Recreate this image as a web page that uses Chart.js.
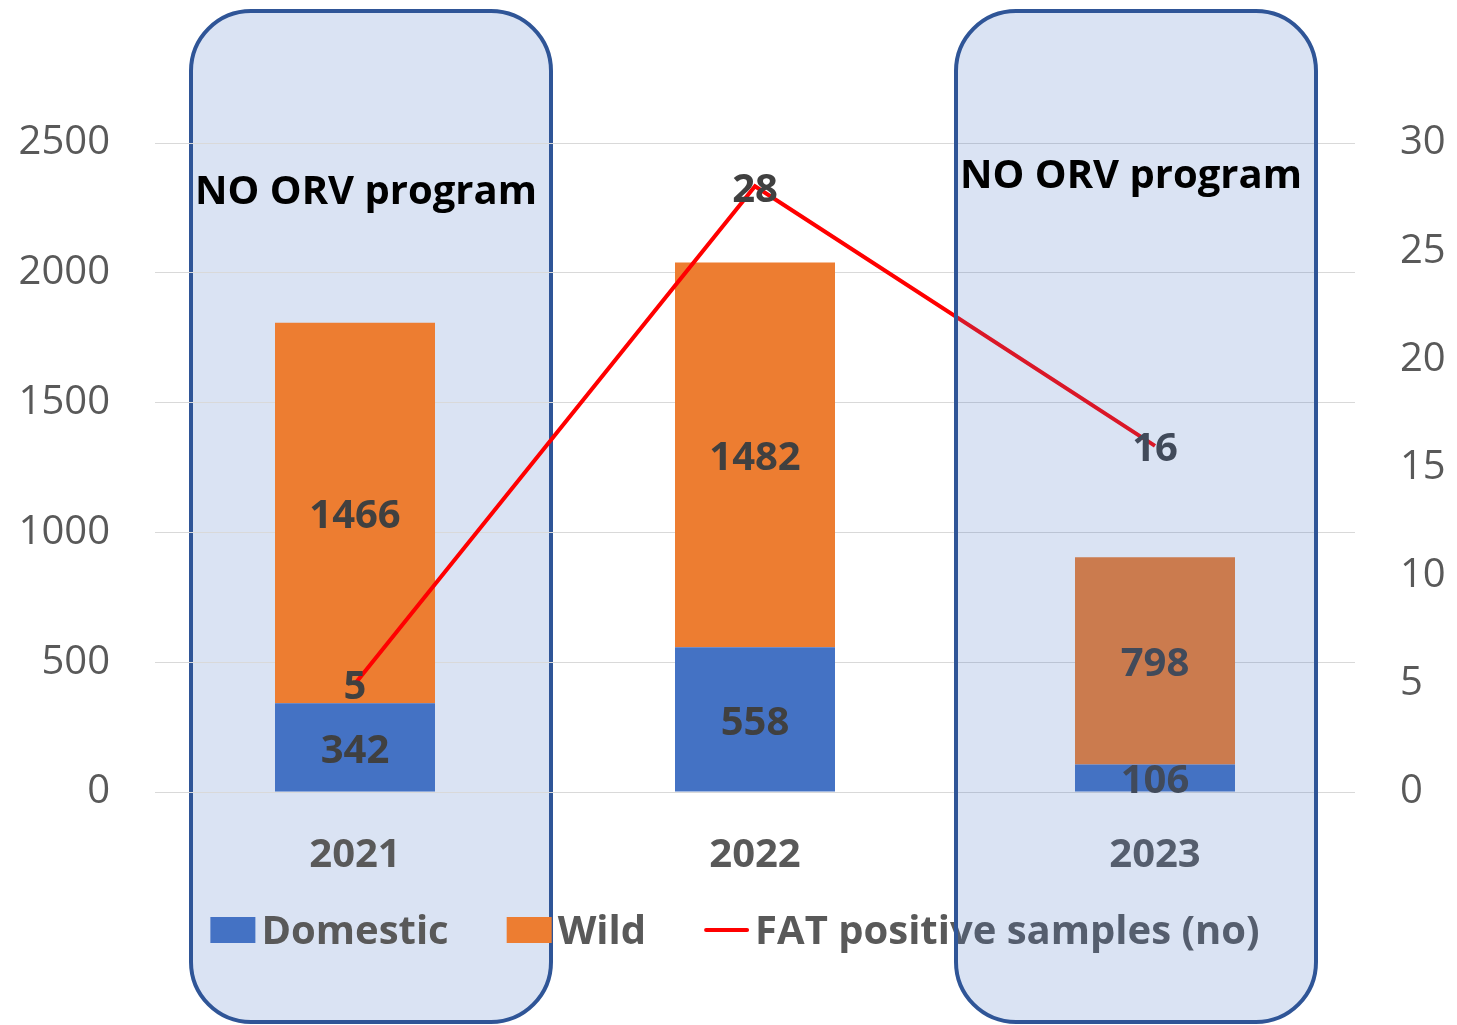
<!DOCTYPE html>
<html lang="en">
<head>
<meta charset="UTF-8">
<title>Domestic / Wild samples and FAT positives</title>
<script src="https://cdn.jsdelivr.net/npm/chart.js"></script>
<style>
    html, body { margin: 0; padding: 0; background: #fff; }
    #wrap { width: 1457px; height: 1025px; position: relative; }
</style>
</head>
<body>
<div id="wrap"><canvas id="chart"></canvas></div>
<script>
    const years = ['2021', '2022', '2023'];
    const domestic = [342, 558, 106];
    const wild = [1466, 1482, 798];
    const fatPositive = [5, 28, 16];
    const countTicks = { min: 0, max: 2500, step: 500 };
    const fatTicks = { min: 0, max: 30, step: 5 };

    const FONT = '"Open Sans", "DejaVu Sans", sans-serif';
    const boxFill = 'rgba(68, 114, 196, 0.2)';
    const boxLine = '#2f5597';

    // rounded "NO ORV program" panels
    function drawPanel(ctx, x, y, w, h, tx, ty) {
        ctx.save();
        ctx.beginPath();
        ctx.roundRect(x, y, w, h, 60);
        ctx.fillStyle = boxFill;
        ctx.fill();
        ctx.lineWidth = 4;
        ctx.strokeStyle = boxLine;
        ctx.stroke();
        ctx.fillStyle = '#000';
        ctx.font = 'bold 40px ' + FONT;
        ctx.textAlign = 'center';
        ctx.textBaseline = 'middle';
        ctx.fillText('NO ORV program', tx, ty);
        ctx.restore();
    }

    const panelBehind = {
        id: 'panelBehind',
        beforeDraw(chart) {
            drawPanel(chart.ctx, 191, 11, 360, 1011, 366, 193);
        }
    };

    const panelFront = {
        id: 'panelFront',
        afterDraw(chart) {
            drawPanel(chart.ctx, 956, 11, 360, 1011, 1131, 177);
        }
    };

    const valueLabels = {
        id: 'valueLabels',
        afterDatasetsDraw(chart) {
            const ctx = chart.ctx;
            ctx.save();
            ctx.font = 'bold 40px ' + FONT;
            ctx.fillStyle = '#404040';
            ctx.textAlign = 'center';
            ctx.textBaseline = 'middle';
            chart.data.datasets.forEach((ds, i) => {
                const meta = chart.getDatasetMeta(i);
                meta.data.forEach((el, j) => {
                    const p = el.getProps(['x', 'y', 'base'], true);
                    const y = ds.type === 'bar' ? (p.y + p.base) / 2 + 4 : p.y + 4;
                    ctx.fillText(ds.data[j], p.x, y);
                });
            });
            ctx.restore();
        }
    };

    const bottomLegend = {
        id: 'bottomLegend',
        afterDatasetsDraw(chart) {
            const ctx = chart.ctx;
            const y = 930, sample = 45, gap = 6, spacing = 58;
            ctx.save();
            ctx.font = 'bold 40px ' + FONT;
            const items = chart.data.datasets.map(ds => ({ ds, w: ctx.measureText(ds.label).width }));
            const total = items.reduce((s, it) => s + sample + gap + it.w, 0) + spacing * (items.length - 1);
            let x = 735 - total / 2;
            items.forEach(it => {
                if (it.ds.type === 'line') {
                    ctx.strokeStyle = it.ds.borderColor;
                    ctx.lineWidth = 4;
                    ctx.lineCap = 'round';
                    ctx.beginPath();
                    ctx.moveTo(x + 2, y);
                    ctx.lineTo(x + sample - 2, y);
                    ctx.stroke();
                } else {
                    ctx.fillStyle = it.ds.backgroundColor;
                    ctx.fillRect(x, y - 13, sample, 26);
                }
                ctx.fillStyle = '#595959';
                ctx.textAlign = 'left';
                ctx.textBaseline = 'middle';
                ctx.fillText(it.ds.label, x + sample + gap, y + 3);
                x += sample + gap + it.w + spacing;
            });
            ctx.restore();
        }
    };

    const tickFont = { family: FONT, size: 40 };

    new Chart(document.getElementById('chart'), {
        data: {
            labels: years,
            datasets: [
                { type: 'bar', label: 'Domestic', data: domestic, backgroundColor: '#4472c4', order: 1 },
                { type: 'bar', label: 'Wild', data: wild, backgroundColor: '#ed7d31', order: 1 },
                {
                    type: 'line', label: 'FAT positive samples (no)', data: fatPositive, yAxisID: 'y1',
                    borderColor: '#ff0000', borderWidth: 4, pointRadius: 0, tension: 0, fill: false, order: 0
                }
            ]
        },
        options: {
            responsive: true,
            maintainAspectRatio: false,
            animation: false,
            datasets: { bar: { categoryPercentage: 0.4, barPercentage: 1 } },
            layout: { padding: { top: 143, left: 0, right: 0, bottom: 0 } },
            plugins: {
                legend: { display: false },
                tooltip: { enabled: false }
            },
            scales: {
                x: {
                    stacked: true,
                    grid: { display: false, drawTicks: false },
                    border: { display: false },
                    ticks: { font: { family: FONT, size: 40, weight: 'bold' }, color: '#595959', padding: 40 },
                    afterFit: s => { s.height = 233; }
                },
                y: {
                    stacked: true,
                    min: countTicks.min,
                    max: countTicks.max,
                    ticks: {
                        stepSize: countTicks.step, padding: 45, font: tickFont, color: '#595959',
                        callback: v => String(v)
                    },
                    grid: { color: '#d9d9d9', lineWidth: 1, drawTicks: false },
                    border: { display: false },
                    afterFit: s => { s.width = 155; }
                },
                y1: {
                    position: 'right',
                    min: fatTicks.min,
                    max: fatTicks.max,
                    ticks: {
                        stepSize: fatTicks.step, padding: 45, font: tickFont, color: '#595959',
                        callback: v => String(v)
                    },
                    grid: { display: false, drawTicks: false },
                    border: { display: false },
                    afterFit: s => { s.width = 102; }
                }
            }
        },
        plugins: [panelBehind, valueLabels, bottomLegend, panelFront]
    });
</script>
</body>
</html>
